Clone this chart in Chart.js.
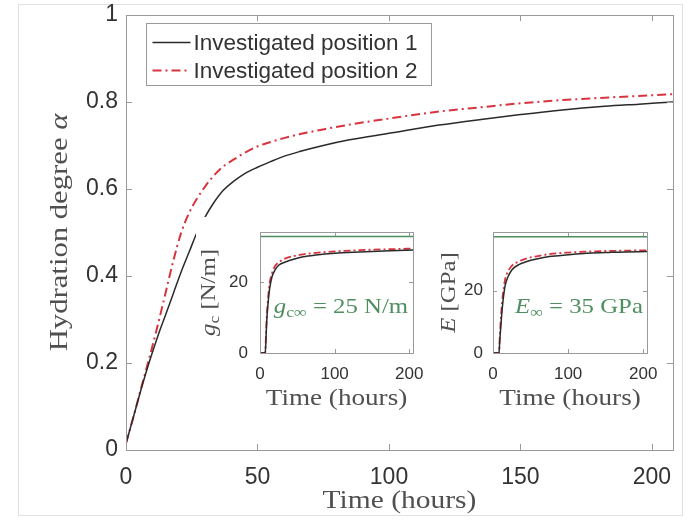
<!DOCTYPE html>
<html>
<head>
<meta charset="utf-8">
<script src="https://cdn.jsdelivr.net/npm/chart.js@4.4.0/dist/chart.umd.min.js"></script>
<style>
  body { margin: 0; background: #fff; }
  #wrap { position: relative; width: 690px; height: 520px; overflow: hidden; }
  #frame { position: absolute; left: 18px; top: 4px; width: 663px; height: 510px; border: 1px solid #e2e2e2; }
  canvas { position: absolute; background: #fff; }
  #main { left: 0; top: 0; background: transparent; }
  #inset1 { left: 196px; top: 217px; }
  #inset2 { left: 432px; top: 217px; }
</style>
</head>
<body>
<div id="wrap">
  <div id="frame"></div>
  <canvas id="main" width="690" height="520"></canvas>
  <canvas id="inset1" width="234" height="200"></canvas>
  <canvas id="inset2" width="233" height="200"></canvas>
</div>
<script>
'use strict';

// hydration degree over time, two positions
const timeHours = [0, 3, 6, 9, 12, 15, 18, 21, 24, 27, 30, 33, 37, 41, 45, 50, 55, 60, 66, 75, 85, 100, 119, 135, 150, 165, 182, 195, 208];
const alphaPosition1 = [0.015, 0.08, 0.145, 0.205, 0.26, 0.31, 0.36, 0.41, 0.455, 0.50, 0.535, 0.565, 0.597, 0.618, 0.635, 0.65, 0.663, 0.675, 0.686, 0.70, 0.713, 0.728, 0.747, 0.76, 0.771, 0.781, 0.79, 0.795, 0.80];
const alphaPosition2 = [0.015, 0.08, 0.148, 0.215, 0.285, 0.36, 0.435, 0.50, 0.545, 0.578, 0.605, 0.628, 0.652, 0.668, 0.683, 0.698, 0.708, 0.717, 0.726, 0.737, 0.748, 0.762, 0.778, 0.788, 0.797, 0.804, 0.81, 0.814, 0.818];
const seriesNames = ['Investigated position 1', 'Investigated position 2'];
const mainXTicks = [0, 50, 100, 150, 200];
const mainYTicks = [0, 0.2, 0.4, 0.6, 0.8, 1];
const mainYTickLabels = ['0', '0.2', '0.4', '0.6', '0.8', '1'];

// inset curves: fracture energy g_c and Young's modulus E
const insetTime = [0, 7, 8, 9, 11, 13, 16, 20, 25, 35, 45, 58, 75, 100, 125, 150, 175, 205];
const gcPosition1 = [0, 0, 4, 9, 14.5, 18.3, 21.5, 23.4, 24.8, 25.8, 26.5, 27.2, 27.7, 28.2, 28.5, 28.7, 28.9, 29.1];
const gcPosition2 = [0, 0, 5, 10, 16, 19.8, 22.5, 24.5, 25.6, 26.8, 27.4, 27.9, 28.3, 28.7, 29.0, 29.2, 29.35, 29.5];
const ePosition1 = [0, 0, 0, 4, 10.5, 16, 21.5, 24.5, 26.7, 28.5, 29.4, 30.2, 31.0, 31.6, 32.1, 32.3, 32.5, 32.6];
const ePosition2 = [0, 0, 0, 5, 13, 18.5, 23.5, 26.2, 28.0, 29.5, 30.4, 31.1, 31.8, 32.3, 32.6, 32.8, 32.9, 33.0];
const gcLimitLine = 32.9;
const eLimitLine = 37.4;
const insetXTicks = [0, 100, 200];
const insetYTicks = [0, 20];

const SANS = '"Liberation Sans", Arial, sans-serif';
const SERIF = '"Liberation Serif", "Times New Roman", serif';
const BLACK = '#2a2a2a';
const RED = '#d8343f';
const GREEN = '#4f8f5f';
const AXIS = '#9a9a9a';
const TEXT = '#333';
const SERIF_TEXT = '#505050';
const DASHDOT = [9, 4, 2, 4];
const STRETCH = 1.18; // widen the serif face a bit

Chart.defaults.font.family = SANS;
Chart.defaults.color = TEXT;

const pts = (xs, ys) => xs.map((x, i) => ({ x, y: ys[i] }));

function fixedScale(size, ticks) {
  return {
    afterFit(s) {
      if (s.isHorizontal()) s.height = size; else s.width = size;
      s.paddingLeft = s.paddingRight = s.paddingTop = s.paddingBottom = 0;
    },
    afterBuildTicks(s) { s.ticks = ticks.map(v => ({ value: v })); }
  };
}

function richText(ctx, parts, cx, cy, angle) {
  ctx.save();
  ctx.translate(cx, cy);
  ctx.rotate(angle || 0);
  ctx.scale(STRETCH, 1);
  ctx.textAlign = 'left';
  ctx.textBaseline = 'alphabetic';
  const widths = parts.map(p => { ctx.font = p.font; return ctx.measureText(p.text).width; });
  let x = -widths.reduce((s, w) => s + w, 0) / 2;
  parts.forEach((p, i) => {
    ctx.font = p.font;
    ctx.fillStyle = p.color || SERIF_TEXT;
    ctx.fillText(p.text, x, p.dy || 0);
    x += widths[i];
  });
  ctx.restore();
}

// MATLAB style box with inward ticks on all four sides
const boxAxes = {
  id: 'boxAxes',
  afterDatasetsDraw(chart, args, o) {
    const { ctx, chartArea: a, scales: { x, y } } = chart;
    ctx.save();
    ctx.strokeStyle = AXIS;
    ctx.lineWidth = 1;
    ctx.beginPath();
    x.ticks.forEach(t => {
      const p = Math.round(x.getPixelForValue(t.value)) + 0.5;
      ctx.moveTo(p, a.bottom); ctx.lineTo(p, a.bottom - o.len);
      ctx.moveTo(p, a.top); ctx.lineTo(p, a.top + o.len);
    });
    y.ticks.forEach(t => {
      const p = Math.round(y.getPixelForValue(t.value)) + 0.5;
      ctx.moveTo(a.left, p); ctx.lineTo(a.left + o.len, p);
      ctx.moveTo(a.right, p); ctx.lineTo(a.right - o.len, p);
    });
    ctx.stroke();
    ctx.strokeRect(Math.round(a.left) + 0.5, Math.round(a.top) + 0.5,
      Math.round(a.right - a.left), Math.round(a.bottom - a.top));
    ctx.restore();
  }
};

function scales(xMax, yMax, xTicks, yTicks, xSize, ySize, tickFont, xPad, yPad, yLabels) {
  return {
    x: {
      type: 'linear', min: 0, max: xMax,
      grid: { display: false, drawTicks: false }, border: { display: false },
      ticks: { padding: xPad, maxRotation: 0, font: { size: tickFont } },
      ...fixedScale(xSize, xTicks)
    },
    y: {
      type: 'linear', min: 0, max: yMax,
      grid: { display: false, drawTicks: false }, border: { display: false },
      ticks: { padding: yPad, font: { size: tickFont }, callback: yLabels ? (v, i) => yLabels[i] : v => v },
      ...fixedScale(ySize, yTicks)
    }
  };
}

const baseOptions = {
  responsive: false,
  animation: false,
  devicePixelRatio: 1,
  events: []
};

const line = (label, data, color, width, dash) => ({
  label, data, borderColor: color, borderWidth: width, borderDash: dash || [],
  pointRadius: 0, fill: false, cubicInterpolationMode: 'monotone'
});

// main chart
const mainText = {
  id: 'mainText',
  afterDraw(chart) {
    const { ctx, chartArea: a } = chart;
    richText(ctx, [
      { text: 'Hydration degree ', font: `26px ${SERIF}` },
      { text: 'α', font: `italic 26px ${SERIF}` }
    ], a.left - 59, (a.top + a.bottom) / 2, -Math.PI / 2);
    richText(ctx, [{ text: 'Time (hours)', font: `25px ${SERIF}` }], (a.left + a.right) / 2, a.bottom + 58);

    // legend
    const lx = 146.5, ly = 23.5, lw = 285, lh = 62;
    ctx.save();
    ctx.fillStyle = '#fff';
    ctx.fillRect(lx, ly, lw, lh);
    ctx.strokeStyle = AXIS;
    ctx.lineWidth = 1;
    ctx.strokeRect(lx, ly, lw, lh);
    chart.data.datasets.forEach((ds, i) => {
      const yy = ly + 19 + i * 28;
      ctx.strokeStyle = ds.borderColor;
      ctx.lineWidth = ds.borderWidth;
      ctx.setLineDash(ds.borderDash);
      ctx.beginPath();
      ctx.moveTo(lx + 6, yy);
      ctx.lineTo(lx + 44, yy);
      ctx.stroke();
      ctx.setLineDash([]);
      ctx.fillStyle = TEXT;
      ctx.font = `22.5px ${SANS}`;
      ctx.textBaseline = 'middle';
      ctx.fillText(ds.label, lx + 47, yy + 1);
    });
    ctx.restore();
  }
};

new Chart(document.getElementById('main'), {
  type: 'line',
  data: {
    datasets: [
      line(seriesNames[0], pts(timeHours, alphaPosition1), BLACK, 1.5),
      line(seriesNames[1], pts(timeHours, alphaPosition2), RED, 2, DASHDOT)
    ]
  },
  options: {
    ...baseOptions,
    layout: { padding: { top: 15, right: 17, left: 0, bottom: 0 } },
    plugins: { legend: { display: false }, tooltip: { enabled: false }, boxAxes: { len: 6 } },
    scales: scales(208, 1, mainXTicks, mainYTicks, 70, 126, 23, 14, 8, mainYTickLabels)
  },
  plugins: [boxAxes, mainText]
});

// inset charts
function inset(id, yMax, ySize, yPad, rightPad, s1, s2, limit, yTitle, yTitleOffset, note) {
  const insetText = {
    id: 'insetText',
    afterDraw(chart) {
      const { ctx, chartArea: a } = chart;
      richText(ctx, yTitle, a.left - yTitleOffset, (a.top + a.bottom) / 2, -Math.PI / 2);
      richText(ctx, [{ text: 'Time (hours)', font: `23px ${SERIF}` }], (a.left + a.right) / 2, a.bottom + 52);
      richText(ctx, note.parts, a.left + note.dx, a.bottom - 40);
    }
  };
  new Chart(document.getElementById(id), {
    type: 'line',
    data: {
      datasets: [
        line('limit', pts([0, 205], [limit, limit]), GREEN, 1.5),
        line(seriesNames[0], pts(insetTime, s1), BLACK, 1.5),
        line(seriesNames[1], pts(insetTime, s2), RED, 1.8, [7, 3, 2, 3])
      ]
    },
    options: {
      ...baseOptions,
      layout: { padding: { top: 15, right: rightPad, left: 0, bottom: 0 } },
      plugins: { legend: { display: false }, tooltip: { enabled: false }, boxAxes: { len: 4 } },
      scales: scales(205, yMax, insetXTicks, insetYTicks, 64, ySize, 17, 11, yPad)
    },
    plugins: [boxAxes, insetText]
  });
}

inset('inset1', 34.2, 64, 12, 17, gcPosition1, gcPosition2, gcLimitLine,
  [
    { text: 'g', font: `italic 21px ${SERIF}` },
    { text: 'c', font: `15px ${SERIF}`, dy: 4 },
    { text: ' [N/m]', font: `21px ${SERIF}` }
  ], 45,
  {
    dx: 81,
    parts: [
      { text: 'g', font: `italic 21px ${SERIF}`, color: GREEN },
      { text: 'c∞', font: `15px ${SERIF}`, dy: 4, color: GREEN },
      { text: ' = 25 N/m', font: `21px ${SERIF}`, color: GREEN }
    ]
  });

inset('inset2', 38.9, 61, 10, 18, ePosition1, ePosition2, eLimitLine,
  [
    { text: 'E', font: `italic 21px ${SERIF}` },
    { text: ' [GPa]', font: `21px ${SERIF}` }
  ], 38,
  {
    dx: 86,
    parts: [
      { text: 'E', font: `italic 21px ${SERIF}`, color: GREEN },
      { text: '∞', font: `15px ${SERIF}`, dy: 4, color: GREEN },
      { text: ' = 35 GPa', font: `21px ${SERIF}`, color: GREEN }
    ]
  });
</script>
</body>
</html>
